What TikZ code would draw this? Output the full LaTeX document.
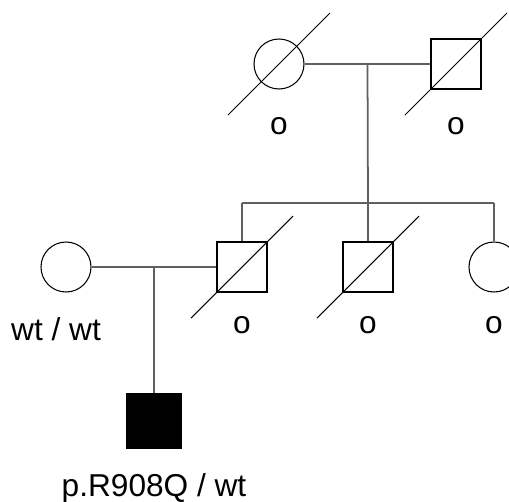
\documentclass[tikz,border=0pt]{standalone}
\usepackage{fontspec}
\setmainfont{Liberation Sans}
\usetikzlibrary{positioning,calc}
\definecolor{linegray}{RGB}{96,96,96}
\tikzstyle{male} = [draw, rectangle, minimum size=1cm, inner sep=0pt, line width=0.6pt]
\tikzstyle{female} = [draw, circle, minimum size=1cm, inner sep=0pt, line width=0.6pt]
\tikzstyle{affected} = [fill=black, minimum size=1.1cm]
\tikzstyle{tag} = [font=\fontsize{18}{20}\selectfont, inner sep=0pt]
\tikzstyle{link} = [draw=linegray, line width=1pt]

\begin{document}
\begin{tikzpicture}[node distance=2.52cm]
    \useasboundingbox (0,0) rectangle (10.18,-10.04);
    % Generation I
    \node [female] (grandma) at (5.58,-1.28) {};
    \node [male, right of=grandma, node distance=3.54cm] (grandpa) {};
    % Generation II
    \node [female] (mother) at (1.32,-5.34) {};
    \node [male, right of=mother, node distance=3.52cm] (father) {};
    \node [male, right of=father] (uncle) {};
    \node [female, right of=uncle] (aunt) {};
    % Generation III
    \node [male, affected] (proband) at (3.08,-8.42) {};

    % Connections
    \coordinate (top) at ($(grandma)!0.5!(grandpa)$);
    \coordinate (sibship) at ($(uncle)+(0,1.28)$);
    \coordinate (sibleft) at (father |- sibship);
    \coordinate (sibright) at (aunt |- sibship);
    \coordinate (mate) at ($(mother)!0.5!(father)$);
    \draw [link] (grandma) -- (grandpa);
    \draw [link] (top) -- (sibship);
    \draw [link] (sibleft) -- (sibright);
    \draw [link] (sibleft) -- (father);
    \draw [link] (sibship) -- (uncle);
    \draw [link] (sibright) -- (aunt);
    \draw [link] (mother) -- (father);
    \draw [link] (mate) -- (proband);

    % Deceased
    \foreach \n in {grandma, grandpa, father, uncle}
        \draw [line width=0.6pt] ($(\n)+(-1.02,-1.02)$) -- ($(\n)+(1.02,1.02)$);

    % Genotypes
    \node [tag, below=0.55cm of grandma] (gmtag) {o};
    \node [tag, below=0.55cm of grandpa] (gptag) {o};
    \node [tag, below=0.47cm of father] (ftag) {o};
    \node [tag, below=0.47cm of uncle] (utag) {o};
    \node [tag, below=0.47cm of aunt] (atag) {o};
    \node [tag, below=0.5cm of mother, xshift=-0.2cm] (mtag) {wt / wt};
    \node [tag, below=0.48cm of proband] (ptag) {p.R908Q / wt};
\end{tikzpicture}
\end{document}
